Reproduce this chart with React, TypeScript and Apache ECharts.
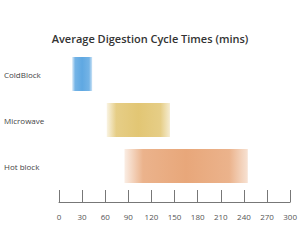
import React, { useEffect, useRef } from "react";
import * as echarts from "echarts";

const categories = ["ColdBlock", "Microwave", "Hot block"];
const startValues = [17, 62, 85];
const endValues = [43, 144, 245];
const barColors = ["#5fa8e2", "#e2c674", "#e8a77a"];
const xTicks = [0, 30, 60, 90, 120, 150, 180, 210, 240, 270, 300];

function fade(c: string) {
  return new echarts.graphic.LinearGradient(0, 0, 1, 0, [
    { offset: 0, color: c + "33" },
    { offset: 0.15, color: c + "dd" },
    { offset: 0.5, color: c },
    { offset: 0.85, color: c + "dd" },
    { offset: 1, color: c + "55" },
  ]);
}

export default function App() {
  const ref = useRef<HTMLDivElement>(null);
  useEffect(() => {
    const chart = echarts.init(ref.current!, null, { renderer: "svg" });
    chart.setOption({
      animation: false,
      title: {
        text: "Average Digestion Cycle Times (mins)",
        left: "center",
        top: 28,
        textStyle: { fontFamily: "Open Sans", fontSize: 11, fontWeight: 600, color: "#333" },
      },
      grid: { left: 59, right: 9, top: 51, bottom: 61 },
      xAxis: {
        type: "value",
        min: 0,
        max: 300,
        interval: 30,
        offset: 13,
        axisLine: { show: true, lineStyle: { color: "#777", width: 1 } },
        axisTick: { show: true, inside: true, length: 12, lineStyle: { color: "#777" } },
        splitLine: { show: false },
        axisLabel: {
          margin: 10,
          fontSize: 8,
          color: "#555",
          fontFamily: "Open Sans",
          formatter: (v: number) => (xTicks.includes(v) ? String(v) : ""),
        },
      },
      yAxis: {
        type: "category",
        inverse: true,
        data: categories,
        axisLine: { show: false },
        axisTick: { show: false },
        axisLabel: {
          align: "left",
          margin: 55,
          fontSize: 8,
          color: "#444",
          fontFamily: "Open Sans",
          padding: [0, 0, 4, 0],
        },
      },
      series: [
        {
          type: "bar",
          stack: "r",
          silent: true,
          itemStyle: { color: "transparent" },
          data: startValues,
          barWidth: 34,
        },
        {
          type: "bar",
          stack: "r",
          barWidth: 34,
          data: endValues.map((e, i) => ({
            value: e - startValues[i],
            itemStyle: { color: fade(barColors[i]) },
          })),
        },
      ],
    });
    return () => chart.dispose();
  }, []);
  return (
    <div
      ref={ref}
      style={{ position: "fixed", left: 0, top: 0, width: 300, height: 250, background: "#fff" }}
    />
  );
}
